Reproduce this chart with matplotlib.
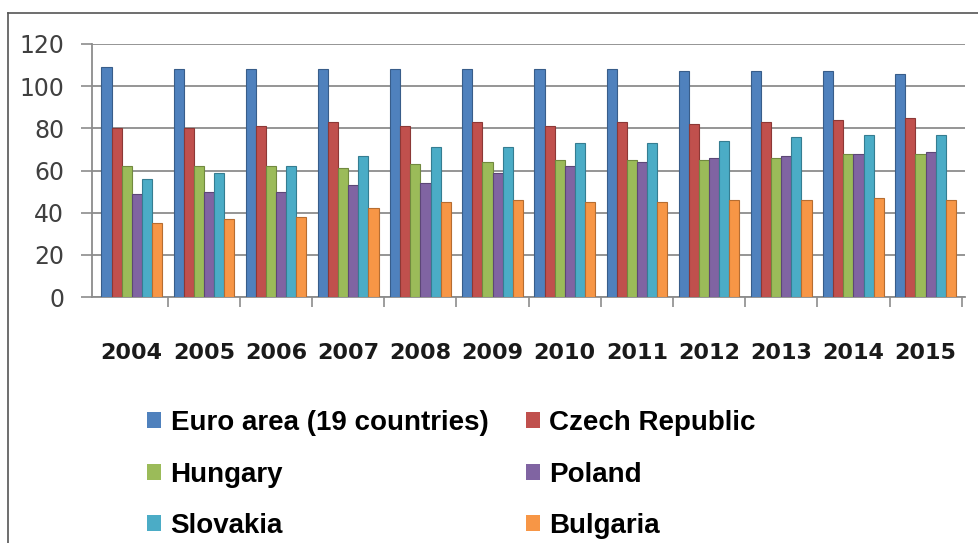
"""Grouped bar chart: index values 2004-2015 for the euro area and five CEE countries"""

import numpy as np
from matplotlib import pyplot as plt
from matplotlib.patches import Patch
from matplotlib.lines import Line2D

years = ['2004', '2005', '2006', '2007', '2008', '2009',
         '2010', '2011', '2012', '2013', '2014', '2015']
series_names = ['Euro area (19 countries)', 'Czech Republic', 'Hungary',
                'Poland', 'Slovakia', 'Bulgaria']

euro_area = [109, 108, 108, 108, 108, 108, 108, 108, 107, 107, 107, 106]
czech = [80, 80, 81, 83, 81, 83, 81, 83, 82, 83, 84, 85]
hungary = [62, 62, 62, 61, 63, 64, 65, 65, 65, 66, 68, 68]
poland = [49, 50, 50, 53, 54, 59, 62, 64, 66, 67, 68, 69]
slovakia = [56, 59, 62, 67, 71, 71, 73, 73, 74, 76, 77, 77]
bulgaria = [35, 37, 38, 42, 45, 46, 45, 45, 46, 46, 47, 46]

colors = ['#4F81BD', '#C0504D', '#9BBB59', '#8064A2', '#4BACC6', '#F79646']
edges = ['#385D8A', '#8C3836', '#71893F', '#5C4776', '#357D91', '#B66D31']


def main():
    """Main method"""

    values = [euro_area, czech, hungary, poland, slovakia, bulgaria]
    x = np.arange(len(years))
    width = 0.14

    fig = plt.figure(figsize=(9.79, 5.43), dpi=100)
    ax = fig.add_axes([0.094, 0.453, 0.892, 0.466])

    for i, vals in enumerate(values):
        offset = (i - 2.5) * width
        ax.bar(x + offset, vals, width, color=colors[i], edgecolor=edges[i],
               linewidth=0.8, zorder=3)

    ax.set_ylim(0, 120)
    ax.set_xlim(-0.55, len(years) - 0.45)
    ax.set_yticks(range(0, 121, 20))
    ax.yaxis.grid(True, color='#8c8c8c', linewidth=1.3, zorder=0)
    ax.set_axisbelow(True)

    ax.set_xticks(x)
    ax.set_xticklabels(years, fontsize=16, fontweight='bold', color='#1a1a1a',
                       family='DejaVu Sans')
    ax.set_xticks(x + 0.5, minor=True)
    ax.tick_params(axis='x', which='major', length=0, pad=33)
    ax.tick_params(axis='x', which='minor', length=7, color='#8c8c8c', width=1.2)
    ax.tick_params(axis='y', length=8, color='#8c8c8c', width=1.2, pad=12,
                   labelsize=17, labelcolor='#404040')

    for side in ['top', 'right']:
        ax.spines[side].set_visible(False)
    for side in ['left', 'bottom']:
        ax.spines[side].set_color('#8c8c8c')
        ax.spines[side].set_linewidth(1.3)

    # legend in two columns, read row by row
    handles = [Patch(facecolor=c, edgecolor='none') for c in colors]
    order = [0, 2, 4, 1, 3, 5]
    fig.legend([handles[i] for i in order], [series_names[i] for i in order],
               ncol=2, loc='upper left', bbox_to_anchor=(147 / 979, 1 - 410 / 543),
               frameon=False, borderpad=0, borderaxespad=0,
               handlelength=0.5, handleheight=0.5, handletextpad=0.35,
               columnspacing=1.35, labelspacing=0.92,
               prop={'family': 'Liberation Sans', 'weight': 'bold', 'size': 20})

    # thin outer border of the original picture
    fig.add_artist(Line2D([8 / 979, 8 / 979], [0, 1 - 13 / 543],
                          color='#555555', linewidth=1.2))
    fig.add_artist(Line2D([8 / 979, 1], [1 - 13 / 543, 1 - 13 / 543],
                          color='#555555', linewidth=1.2))

    fig.savefig('out.png', dpi=100)


if __name__ == '__main__':
    main()
